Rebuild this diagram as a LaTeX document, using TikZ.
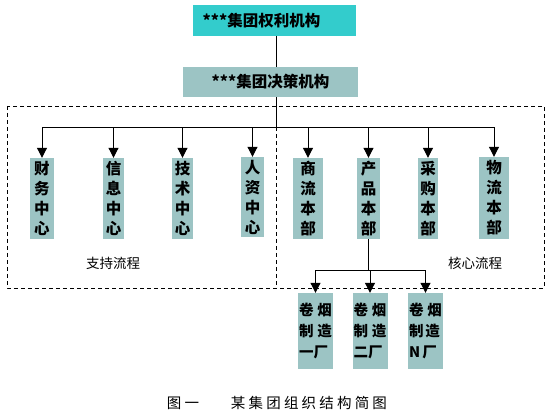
\documentclass[tikz,border=0pt]{standalone}
\usepackage{fontspec}
\newfontfamily\cjk{Noto Sans CJK SC}
\newfontfamily\capfont[LetterSpace=22]{Noto Sans CJK SC}
\usetikzlibrary{calc,arrows.meta}

\definecolor{topcyan}{HTML}{33CCCC}
\definecolor{boxgray}{HTML}{9CC4C4}

\tikzset{
    unit/.style={fill=boxgray, inner sep=0pt, font=\cjk\bfseries\fontsize{15.5}{20}\selectfont,
        align=center, minimum height=81pt},
    plant/.style={fill=boxgray, inner sep=0pt, minimum width=35pt, minimum height=76pt,
        font=\cjk\bfseries\fontsize{14.5}{21}\selectfont},
    arr/.style={-{Triangle[width=10pt,length=10pt]}, line width=1pt},
    lbl/.style={font=\cjk\fontsize{13.5}{15}\selectfont},
}

\begin{document}
\begin{tikzpicture}[x=1pt,y=-1pt]
    \useasboundingbox (0,0) rectangle (550,417);

    % dashed frame for the two process groups
    \draw[dashed, line width=0.8pt, dash pattern=on 4pt off 3pt] (7,106) rectangle (544,288);
    \draw[dashed, line width=0.8pt, dash pattern=on 4pt off 3pt] (276,106) -- (276,288);

    \node[fill=topcyan, minimum width=163pt, minimum height=31pt, inner sep=0pt,
        font=\cjk\bfseries\fontsize{15.5}{16}\selectfont] (qlj) at (274.5,21) {***集团权利机构\hspace*{26pt}};
    \node[fill=boxgray, minimum width=175pt, minimum height=30pt, inner sep=0pt,
        font=\cjk\bfseries\fontsize{15.5}{16}\selectfont] (jcj) at (270.5,82) {***集团决策机构};

    \node[unit, minimum width=24pt] (cw) at (42,198.5) {财\\务\\中\\心};
    \node[unit, minimum width=21pt] (xx) at (113.5,198.5) {信\\息\\中\\心};
    \node[unit, minimum width=21pt] (js) at (182.5,198.5) {技\\术\\中\\心};
    \node[unit, minimum width=23pt, minimum height=80pt] (rz) at (252.5,197) {人\\资\\中\\心};
    \node[unit, minimum width=30pt] (sl) at (308,198.5) {商\\流\\本\\部};
    \node[unit, minimum width=23pt] (cp) at (368.5,198.5) {产\\品\\本\\部};
    \node[unit, minimum width=20pt] (cg) at (428,198.5) {采\\购\\本\\部};
    \node[unit, minimum width=30pt, minimum height=82pt] (wl) at (494,198) {物\\流\\本\\部};

    \node[plant, align=left] (f1) at (315.5,331) {卷\hspace{4pt}烟\\制\hspace{4pt}造\\一厂};
    \node[plant, align=left] (f2) at (370,331) {卷\hspace{4pt}烟\\制\hspace{4pt}造\\二厂};
    \node[plant, align=left] (fn) at (425.5,331) {卷\hspace{4pt}烟\\制\hspace{2pt}造\\N\,厂};

    \node[lbl] (zc) at (113,263) {支持流程};
    \node[lbl] (hx) at (475,263) {核心流程};

    \node[font=\capfont\fontsize{14.5}{15}\selectfont] (tu) at (183,403) {图一};
    \node[font=\capfont\fontsize{14.5}{15}\selectfont] (cap) at (309,403) {某集团组织结构简图};

    % connectors
    \coordinate (spine) at (276,36);
    \coordinate (bus) at (276,128);
    \draw[line width=1pt] (spine) -- (spine |- jcj.north);
    \draw[line width=1pt] (spine |- jcj.south) -- (bus);
    \foreach \u in {cw,xx,js,rz,sl,cp,cg,wl} {
        \draw[arr] (bus) -| (\u.north);
    }

    \path (cp.south) ++(0,31) coordinate (fb);
    \draw[line width=1pt] (cp.south) -- (fb);
    \foreach \f in {f1,f2,fn} {
        \draw[arr] (fb) -| (\f.north);
    }

\end{tikzpicture}
\end{document}
